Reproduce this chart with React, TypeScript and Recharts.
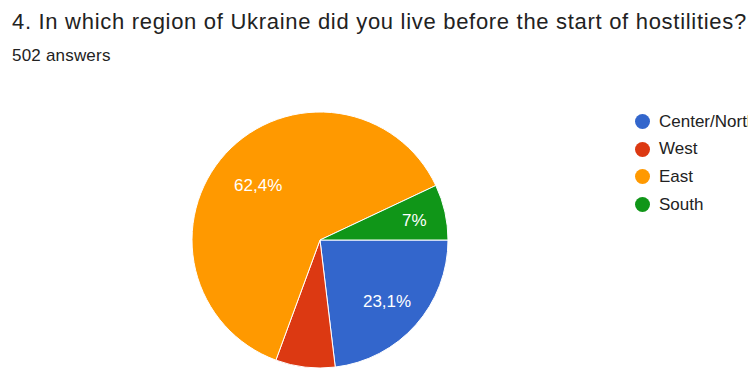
import { PieChart, Pie, Cell, Legend } from "recharts";

const regions = ["Center/North", "West", "East", "South"];
const shares = [23.1, 7.5, 62.4, 7];
const shareLabels = ["23,1%", "", "62,4%", "7%"];
const colors = ["#3366CC", "#DC3912", "#FF9900", "#109618"];

const data = regions.map((name, i) => ({ name, value: shares[i] }));

const FONT = "'Liberation Sans', Arial, sans-serif";
const RAD = Math.PI / 180;

// labels sit inside the slice; thin slices push them outward, the big one inward
function sliceLabel(props: any) {
  const { cx, cy, midAngle, outerRadius, index } = props;
  const text = shareLabels[index];
  if (!text) return null;
  const v = shares[index];
  const r = outerRadius * (v < 10 ? 0.755 : v > 50 ? 0.655 : 0.7);
  const x = cx + r * Math.cos(-midAngle * RAD);
  const y = cy + r * Math.sin(-midAngle * RAD) + 2;
  return (
    <text x={x} y={y} fill="#fff" fontSize={17} fontFamily={FONT} textAnchor="middle" dominantBaseline="central">
      {text}
    </text>
  );
}

function legendContent() {
  return (
    <div>
      {regions.map((name, i) => (
        <div key={name} style={{ display: "flex", alignItems: "center", height: 27.6, whiteSpace: "nowrap" }}>
          <span style={{ width: 15, height: 15, borderRadius: "50%", background: colors[i], display: "inline-block", marginRight: 9, flex: "none" }} />
          <span style={{ fontSize: 17, color: "#222", fontFamily: FONT }}>{name}</span>
        </div>
      ))}
    </div>
  );
}

export default function App() {
  return (
    <div style={{ position: "absolute", left: 0, top: 0, width: 748, height: 369, overflow: "hidden", background: "#fff", fontFamily: FONT }}>
      <div style={{ position: "absolute", left: 12, top: 9, fontSize: 22, letterSpacing: 0.7, color: "#222", whiteSpace: "nowrap" }}>
        4. In which region of Ukraine did you live before the start of hostilities?
      </div>
      <div style={{ position: "absolute", left: 12, top: 46, fontSize: 17, letterSpacing: 0.2, color: "#222" }}>502 answers</div>
      <PieChart width={748} height={369} margin={{ top: 0, right: 0, bottom: 0, left: 0 }} style={{ position: "absolute", left: 0, top: 0 }}>
        <Pie
          data={data}
          dataKey="value"
          nameKey="name"
          cx={320}
          cy={240}
          outerRadius={128}
          startAngle={0}
          endAngle={-360}
          stroke="#fff"
          strokeWidth={1}
          label={sliceLabel}
          labelLine={false}
          isAnimationActive={false}
        >
          {data.map((d, i) => (
            <Cell key={d.name} fill={colors[i]} />
          ))}
        </Pie>
        <Legend
          content={legendContent}
          layout="vertical"
          wrapperStyle={{ position: "absolute", left: 635, top: 108, width: 200 }}
        />
      </PieChart>
    </div>
  );
}
